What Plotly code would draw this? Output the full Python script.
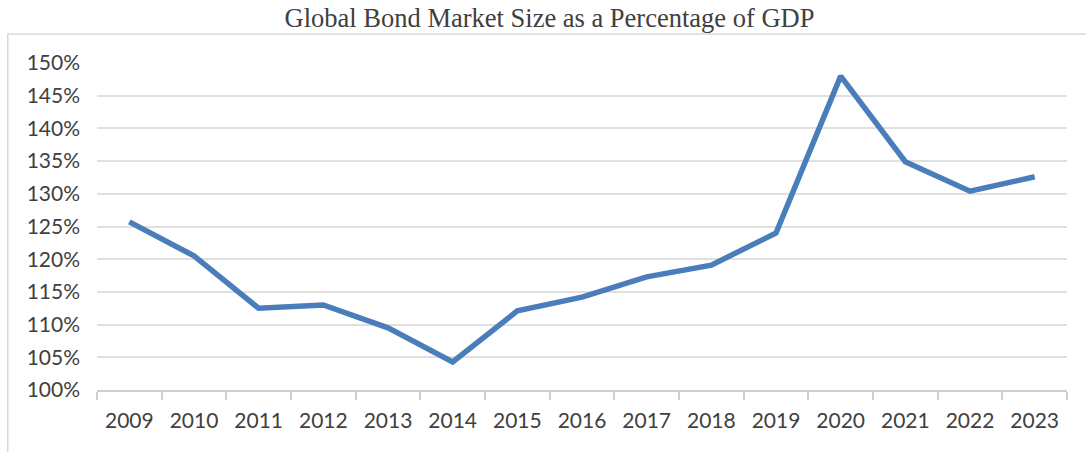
import plotly.graph_objects as go

years = [str(y) for y in range(2009, 2024)]
bond_pct = [125.7, 120.5, 112.5, 113.0, 109.5, 104.3, 112.1, 114.2,
            117.3, 119.1, 124.0, 148.0, 134.9, 130.4, 132.6]
y_ticks = list(range(100, 151, 5))
y_labels = [f"{v}%" for v in y_ticks]

fig = go.Figure()
fig.add_trace(go.Scatter(
    x=years,
    y=bond_pct,
    mode="lines",
    line=dict(color="#4A7EBB", width=5.5),
    showlegend=False))

# Outer chart border (Excel-style frame)
fig.add_shape(
    type="rect", xref="paper", yref="paper",
    x0=-0.092, x1=1.03, y0=-0.25, y1=1.089,
    line=dict(color="#D9D9D9", width=1.5),
    layer="below")

fig.update_layout(
    width=1086,
    height=452,
    margin=dict(l=97, r=19, t=63, b=62),
    paper_bgcolor="white",
    plot_bgcolor="white",
    title=dict(
        text="Global Bond Market Size as a Percentage of GDP",
        x=0.506, xref="container", xanchor="center",
        y=0.96, yanchor="middle",
        font=dict(family="Liberation Serif", size=26.5, color="#404040")),
    font=dict(family="Lato", size=21, color="#595959"))

fig.update_xaxes(
    type="category",
    range=[-0.5, 14.5],
    showgrid=False,
    showline=True,
    linecolor="#D0D0D0",
    linewidth=1.5,
    ticks="outside",
    tickson="boundaries",
    ticklen=8,
    tickcolor="#D0D0D0",
    tickwidth=1.5,
    ticklabelstandoff=11,
    tickfont=dict(family="Lato", size=21, color="#404040"))

fig.update_yaxes(
    range=[100, 150],
    tickvals=y_ticks,
    ticktext=y_labels,
    showgrid=True,
    gridcolor="#E0E0E0",
    gridwidth=1.5,
    zeroline=False,
    showline=False,
    ticks="",
    ticklabelstandoff=16,
    tickfont=dict(family="Lato", size=21, color="#404040"))

# drop the browser's default body margin so the figure sits at (0, 0)
fig.write_html("out.html", config={"displayModeBar": False},
               post_script="document.body.style.margin='0';")
